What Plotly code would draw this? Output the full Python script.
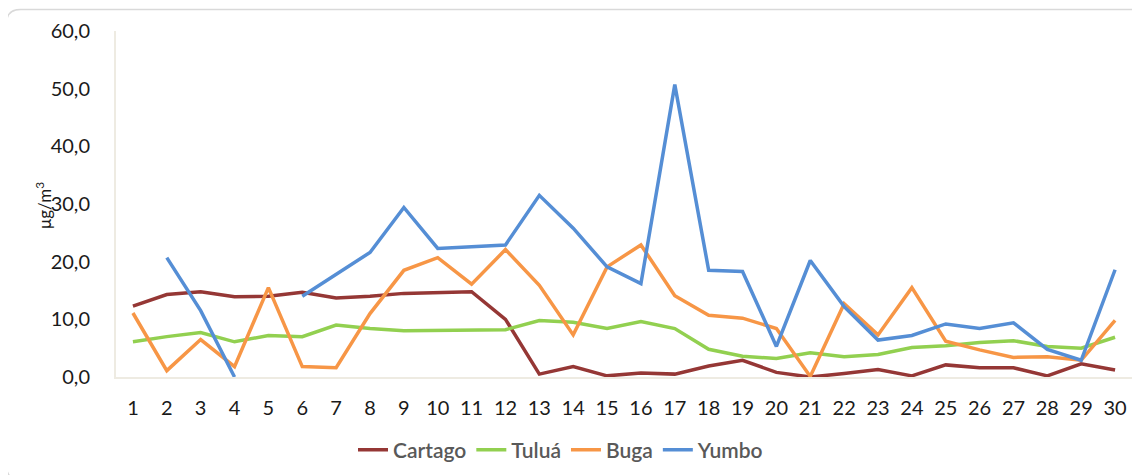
import plotly.graph_objects as go

days = [str(d) for d in range(1, 31)]

cartago = [12.3, 14.3, 14.8, 13.9, 14.0, 14.7, 13.7, 14.0, 14.5, 14.6, 14.8, 10.0, 0.5, 1.8, 0.2,
           0.7, 0.5, 1.9, 2.9, 0.8, 0.0, 0.6, 1.3, 0.2, 2.1, 1.6, 1.6, 0.2, 2.3, 1.2]
tulua = [6.1, 7.0, 7.7, 6.1, 7.2, 7.0, 9.0, 8.4, 8.0, 8.1, 8.1, 8.2, 9.8, 9.5, 8.4,
         9.6, 8.4, 4.8, 3.6, 3.2, 4.2, 3.5, 3.9, 5.1, 5.4, 6.0, 6.3, 5.3, 5.0, 6.9]
buga = [11.1, 1.1, 6.5, 1.8, 15.5, 1.8, 1.6, 11.0, 18.5, 20.7, 16.1, 22.1, 15.9, 7.3, 19.1,
        22.9, 14.1, 10.7, 10.2, 8.4, 0.1, 12.7, 7.3, 15.5, 6.2, 4.7, 3.4, 3.5, 2.9, 9.8]
yumbo = [None, 20.7, 11.5, 0.0, None, 14.0, 17.8, 21.6, 29.4, 22.3, 22.6, 22.9, 31.5, 25.8, 19.1,
         16.2, 50.7, 18.5, 18.3, 5.3, 20.2, 12.2, 6.4, 7.2, 9.2, 8.4, 9.4, 4.8, 2.9, 18.6]

series = [("Cartago", cartago, "#953735"),
          ("Tuluá", tulua, "#92D050"),
          ("Buga", buga, "#F79646"),
          ("Yumbo", yumbo, "#558ED5")]

fig = go.Figure()
for name, vals, col in series:
    fig.add_trace(go.Scatter(x=days, y=vals, name=name, mode="lines",
                             line=dict(color=col, width=3.5), connectgaps=False))

# page body adds an 8px offset, so margins are shifted to land the plot at 116..1132 x 31..377
def px_x(p):
    return (p - 116) / 1016

def px_y(p):
    return (377 - p) / 346

# rounded chart border
L, R, T, B, r = 6.5, 1150, 9.5, 480, 14
path = (f"M {px_x(L)},{px_y(T + r)} Q {px_x(L)},{px_y(T)} {px_x(L + r)},{px_y(T)} "
        f"L {px_x(R)},{px_y(T)} L {px_x(R)},{px_y(B)} L {px_x(L + r)},{px_y(B)} "
        f"Q {px_x(L)},{px_y(B)} {px_x(L)},{px_y(B - r)} Z")

fig.update_layout(
    width=1140, height=475,
    margin=dict(l=108, r=16, t=23, b=106),
    paper_bgcolor="white", plot_bgcolor="white",
    font=dict(family="Lato, Carlito, sans-serif", size=20, color="#1a1a1a"),
    showlegend=True,
    legend=dict(orientation="h", x=px_x(561), xanchor="center", y=px_y(450), yanchor="middle",
                font=dict(size=21, color="#595959", weight=600),
                itemwidth=30, tracegroupgap=0),
    xaxis=dict(type="category", range=[-0.5, 29.5], showgrid=False, zeroline=False,
               showline=True, linecolor="#eeebe2", linewidth=2, ticks="", automargin=False,
               ticklabelstandoff=12, tickfont=dict(size=20)),
    yaxis=dict(range=[0, 60], dtick=10, tickformat=".1f", showgrid=False, zeroline=False,
               showline=True, linecolor="#eeebe2", linewidth=2, ticks="", automargin=False,
               ticklabelstandoff=20, tickfont=dict(size=20)),
    annotations=[dict(text="μg/m<sup>3</sup>", xref="paper", yref="paper",
                      x=px_x(43), y=px_y(206), textangle=-90, showarrow=False,
                      xanchor="center", yanchor="middle", font=dict(size=17))],
    separators=",.",
    shapes=[dict(type="path", xref="paper", yref="paper", path=path,
                 line=dict(color="#d9d9d9", width=1.5), layer="below")],
)

fig.write_html("out.html")
